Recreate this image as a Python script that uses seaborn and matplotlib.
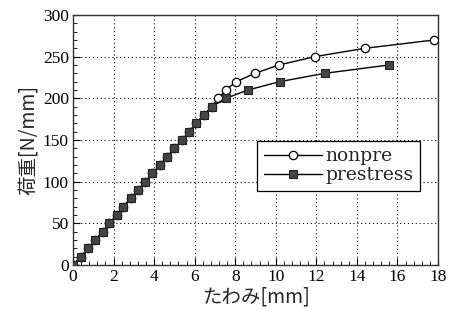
import numpy as np
import pandas as pd
import matplotlib
matplotlib.use("Agg")
import matplotlib.pyplot as plt
import seaborn as sns
from matplotlib.ticker import MultipleLocator

# Data
pre_x = [0, 0.38, 0.74, 1.1, 1.46, 1.79, 2.15, 2.48, 2.84, 3.2, 3.56, 3.92, 4.28,
         4.64, 5.0, 5.37, 5.73, 6.06, 6.45, 6.84, 7.53, 8.63, 10.19, 12.41, 15.57]
pre_y = [0, 10, 20, 30, 40, 50, 60, 70, 80, 90, 100, 110, 120,
         130, 140, 150, 160, 170, 180, 190, 200, 210, 220, 230, 240]
non_x = [0, 0.38, 0.74, 1.1, 1.46, 1.79, 2.15, 2.48, 2.84, 3.2, 3.56, 3.92, 4.28,
         4.64, 5.0, 5.37, 5.73, 6.06, 6.45, 6.84, 7.17, 7.53, 8.06, 8.96, 10.16,
         11.92, 14.38, 17.8]
non_y = [0, 10, 20, 30, 40, 50, 60, 70, 80, 90, 100, 110, 120,
         130, 140, 150, 160, 170, 180, 190, 200, 210, 220, 230, 240,
         250, 260, 270]
series_names = ["nonpre", "prestress"]
x_ticks = [0, 2, 4, 6, 8, 10, 12, 14, 16, 18]
y_ticks = [0, 50, 100, 150, 200, 250, 300]

sns.set_style("white")
plt.rcParams['font.family'] = ['Liberation Serif', 'DejaVu Serif']

fig = plt.figure(figsize=(4.52, 3.26), dpi=100)
ax = fig.add_axes([0.1615, 0.187, 0.8075, 0.767])

df_non = pd.DataFrame({"x": non_x, "y": non_y})
df_pre = pd.DataFrame({"x": pre_x, "y": pre_y})

sns.lineplot(data=df_non, x="x", y="y", ax=ax, color="black", lw=1.0,
             marker="o", markersize=6, markerfacecolor="white",
             markeredgecolor="black", markeredgewidth=0.9,
             label=series_names[0], sort=False, zorder=3)
sns.lineplot(data=df_pre, x="x", y="y", ax=ax, color="black", lw=1.0,
             marker="s", markersize=5.2, markerfacecolor="#444444",
             markeredgecolor="#222222", markeredgewidth=0.8,
             label=series_names[1], sort=False, zorder=4)

ax.set_xlim(0, 18)
ax.set_ylim(0, 300)
ax.set_xticks(x_ticks)
ax.set_yticks(y_ticks)
ax.xaxis.set_minor_locator(MultipleLocator(0.4))
ax.yaxis.set_minor_locator(MultipleLocator(10))
ax.tick_params(axis="both", which="both", direction="in", bottom=True, left=True,
               top=False, right=False, colors="black", labelsize=12.5)
ax.tick_params(axis="both", which="major", length=5, width=0.8, pad=3)
ax.tick_params(axis="both", which="minor", length=3, width=0.6)
ax.grid(True, which="major", linestyle=(0, (1, 2.5)), color="black", lw=0.8)
for s in ax.spines.values():
    s.set_color("#333333")
    s.set_linewidth(1.0)

ax.set_xlabel("たわみ[mm]", fontsize=14, family=['Noto Sans CJK JP', 'DejaVu Sans'],
              labelpad=1)
ax.set_ylabel("荷重[N/mm]", fontsize=14, family=['Noto Sans CJK JP', 'DejaVu Sans'],
              labelpad=2)

leg = ax.legend(loc="upper left", bbox_to_anchor=(0.505, 0.497), frameon=True,
                fancybox=False, edgecolor="black", framealpha=1,
                prop={'family': 'DejaVu Serif', 'size': 13.5}, handlelength=3.1,
                borderpad=0.35, labelspacing=0.05, handletextpad=0.2,
                borderaxespad=0)
leg.get_frame().set_linewidth(0.9)

fig.savefig("out.png", dpi=100)
